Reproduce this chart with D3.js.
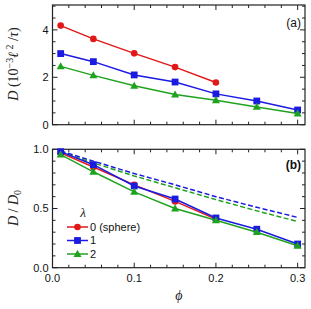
<!DOCTYPE html>
<html><head><meta charset="utf-8">
<script src="https://cdn.jsdelivr.net/npm/d3@7"></script>
<style>body{margin:0;background:#fff}svg{display:block}</style>
</head><body>
<svg id="c" width="311" height="309"></svg>
<script>
const phi = [0.01, 0.05, 0.1, 0.15, 0.2, 0.25, 0.3];
const lambdaLabels = ["0 (sphere)", "1", "2"];
const colors = ["#e01818", "#1a1ae0", "#1fa31f"];
// Panel (a): D in units of 1e-3 l^2/tau
const Da_sphere = [4.18, 3.62, 3.01, 2.43, 1.78];
const Da_l1 = [3.0, 2.66, 2.1, 1.8, 1.3, 1.0, 0.62];
const Da_l2 = [2.46, 2.08, 1.64, 1.27, 1.03, 0.75, 0.47];
// Panel (b): D/D0
const Db_sphere = [0.97, 0.85, 0.70, 0.56, 0.41];
const Db_l1 = [0.98, 0.87, 0.69, 0.58, 0.42, 0.325, 0.20];
const Db_l2 = [0.955, 0.81, 0.64, 0.50, 0.40, 0.30, 0.185];
const Dash_l1 = [0.985, 0.90, 0.795, 0.70, 0.60, 0.51, 0.425];
const Dash_l2 = [0.975, 0.885, 0.775, 0.675, 0.575, 0.48, 0.39];
const xTicksMajor = [0, 0.1, 0.2, 0.3];
const yTicksA = [0, 2, 4];
const yTicksB = [0, 0.5, 1.0];

const svg = d3.select("#c");
const L = 52.5, R = 305;
const x = d3.scaleLinear().domain([0, 0.309]).range([L, R]);
const yA = d3.scaleLinear().domain([0, 5.05]).range([124.7, 5]);
const yB = d3.scaleLinear().domain([0, 1.0]).range([267.7, 149.3]);
const tickFont = "Liberation Sans, Arial, sans-serif";

function frame(y, top, bottom, yMajor, yMinorStep, showXLabels, yFmt) {
  const g = svg.append("g");
  g.append("rect").attr("x", L).attr("y", top).attr("width", R - L).attr("height", bottom - top)
    .attr("fill", "none").attr("stroke", "#222").attr("stroke-width", 1.2);
  const xMinor = d3.range(0, 0.3001, 0.02);
  xMinor.forEach(v => {
    const maj = xTicksMajor.some(m => Math.abs(m - v) < 1e-9);
    const len = maj ? 5 : 3;
    g.append("line").attr("x1", x(v)).attr("x2", x(v)).attr("y1", bottom).attr("y2", bottom - len).attr("stroke", "#222");
    g.append("line").attr("x1", x(v)).attr("x2", x(v)).attr("y1", top).attr("y2", top + len).attr("stroke", "#222");
  });
  const y1 = y.domain()[1];
  const yMinor = d3.range(0, y1 + 1e-9, yMinorStep);
  yMinor.forEach(v => {
    const maj = yMajor.some(m => Math.abs(m - v) < 1e-9);
    const len = maj ? 5 : 3;
    g.append("line").attr("x1", L).attr("x2", L + len).attr("y1", y(v)).attr("y2", y(v)).attr("stroke", "#222");
    g.append("line").attr("x1", R).attr("x2", R - len).attr("y1", y(v)).attr("y2", y(v)).attr("stroke", "#222");
  });
  yMajor.forEach(v => {
    g.append("text").attr("x", L - 4).attr("y", y(v)).attr("dy", "0.36em").attr("text-anchor", "end")
      .attr("font-family", tickFont).attr("font-size", 11).attr("fill", "#111").text(yFmt(v));
  });
  if (showXLabels) {
    xTicksMajor.forEach(v => {
      g.append("text").attr("x", x(v)).attr("y", bottom + 14).attr("text-anchor", "middle")
        .attr("font-family", tickFont).attr("font-size", 11).attr("fill", "#111").text(d3.format(".1f")(v));
    });
  }
}

frame(yA, 5, 124.7, yTicksA, 0.5, false, d3.format("d"));
frame(yB, 149.3, 267.7, yTicksB, 0.1, true, d3.format(".1f"));

function marker(g, type, cx, cy, color) {
  if (type === 0) g.append("circle").attr("cx", cx).attr("cy", cy).attr("r", 3.3).attr("fill", color);
  else if (type === 1) g.append("rect").attr("x", cx - 3.4).attr("y", cy - 3.4).attr("width", 6.8).attr("height", 6.8).attr("fill", color);
  else g.append("path").attr("d", `M${cx},${cy - 4.2}L${cx + 4},${cy + 2.9}L${cx - 4},${cy + 2.9}Z`).attr("fill", color);
}

function series(y, vals, i) {
  const g = svg.append("g");
  const pts = vals.map((v, k) => [x(phi[k]), y(v)]);
  g.append("path").attr("d", d3.line()(pts)).attr("fill", "none").attr("stroke", colors[i]).attr("stroke-width", 1.5);
  pts.forEach(p => marker(g, i, p[0], p[1], colors[i]));
}
function dashed(y, vals, i) {
  const pts = vals.map((v, k) => [x(phi[k]), y(v)]);
  svg.append("path").attr("d", d3.line()(pts)).attr("fill", "none").attr("stroke", colors[i])
    .attr("stroke-width", 1.5).attr("stroke-dasharray", "5,2.5");
}

series(yA, Da_sphere, 0);
series(yA, Da_l1, 1);
series(yA, Da_l2, 2);

dashed(yB, Dash_l1, 1);
dashed(yB, Dash_l2, 2);
series(yB, Db_sphere, 0);
series(yB, Db_l1, 1);
series(yB, Db_l2, 2);

// panel labels
svg.append("text").attr("x", 301).attr("y", 27).attr("text-anchor", "end").attr("font-family", tickFont)
  .attr("font-size", 12).attr("fill", "#111").text("(a)");
svg.append("text").attr("x", 301).attr("y", 169).attr("text-anchor", "end").attr("font-family", tickFont)
  .attr("font-size", 12).attr("font-weight", "bold").attr("fill", "#111").text("(b)");

// y axis labels
const serif = "Liberation Serif, Times New Roman, serif";
const la = svg.append("text").attr("transform", "translate(18,64) rotate(-90)").attr("text-anchor", "middle")
  .attr("font-family", serif).attr("font-size", 14).attr("fill", "#222");
la.append("tspan").attr("font-style", "italic").text("D");
la.append("tspan").text(" (10");
la.append("tspan").attr("font-size", 10).attr("dy", -5).text("−3");
la.append("tspan").attr("font-style", "italic").attr("dy", 5).text("ℓ");
la.append("tspan").attr("font-size", 10).attr("dy", -5).text(" 2");
la.append("tspan").attr("dy", 5).text(" /");
la.append("tspan").attr("font-style", "italic").text("τ");
la.append("tspan").text(")");

const lb = svg.append("text").attr("transform", "translate(18,208) rotate(-90)").attr("text-anchor", "middle")
  .attr("font-family", serif).attr("font-size", 14).attr("fill", "#222");
lb.append("tspan").attr("font-style", "italic").text("D");
lb.append("tspan").text(" / ");
lb.append("tspan").attr("font-style", "italic").text("D");
lb.append("tspan").attr("font-size", 10).attr("dy", 3).text("0");

svg.append("text").attr("x", (L + R) / 2).attr("y", 300).attr("text-anchor", "middle")
  .attr("font-family", serif).attr("font-style", "italic").attr("font-size", 14).attr("fill", "#222").text("ϕ");

// legend
svg.append("text").attr("x", 83).attr("y", 217).attr("text-anchor", "middle")
  .attr("font-family", serif).attr("font-style", "italic").attr("font-size", 13).attr("fill", "#222").text("λ");
lambdaLabels.forEach((lab, i) => {
  const yy = 227 + i * 13.5;
  const g = svg.append("g");
  g.append("line").attr("x1", 67).attr("x2", 88).attr("y1", yy).attr("y2", yy).attr("stroke", colors[i]).attr("stroke-width", 1.5);
  marker(g, i, 77.5, yy, colors[i]);
  g.append("text").attr("x", 90).attr("y", yy).attr("dy", "0.36em").attr("font-family", tickFont)
    .attr("font-size", 11).attr("fill", "#111").text(lab);
});
</script>
</body></html>
